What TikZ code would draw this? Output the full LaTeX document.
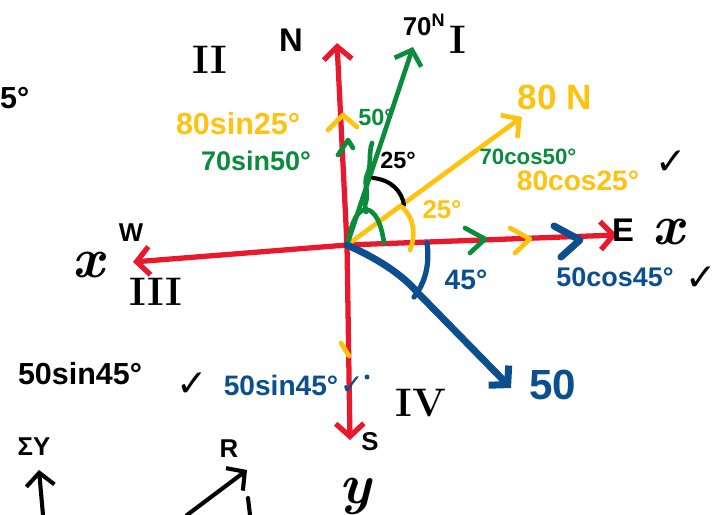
\documentclass[tikz,border=0pt]{standalone}
\usepackage{fontspec}
\setsansfont{Liberation Sans}
\newfontfamily\symfont{DejaVu Sans}
\usetikzlibrary{arrows.meta}
\definecolor{axisred}{HTML}{E8192C}
\definecolor{vecgreen}{HTML}{0A8C3C}
\definecolor{vecyellow}{HTML}{FFC20E}
\definecolor{vecblue}{HTML}{0B4F8E}
\tikzset{
  lbl/.style={font=\sffamily\bfseries\fontsize{#1}{#1}\selectfont, inner sep=0pt},
  lbl/.default=24,
  numeral/.style={font=\rmfamily\bfseries\fontsize{34}{34}\selectfont, inner sep=0pt},
  var/.style={font=\rmfamily\bfseries\itshape\fontsize{48}{48}\selectfont, inner sep=0pt},
  tick/.style={font=\symfont\bfseries\fontsize{32}{32}\selectfont, inner sep=0pt},
  stroke/.style={line width=4.5pt, line cap=round, line join=round},
  vec/.style={stroke, -{Straight Barb[length=11pt,width=24pt]}}
}

\begin{document}
\begin{tikzpicture}[x=0.03cm,y=-0.03cm]
  \useasboundingbox (0,0) rectangle (723,515);
  \coordinate (O) at (347,245);
  \coordinate (N) at (337,43);
  \coordinate (S) at (350,440);
  \coordinate (E) at (617,235);
  \coordinate (W) at (133,262);
  \coordinate (tipG) at (413,47);
  \coordinate (tipY) at (522,117);
  \coordinate (tipB) at (511,388);

  \draw[vec,axisred] (O) -- (N);
  \draw[vec,axisred] (O) -- (S);
  \draw[vec,axisred] (O) -- (E);
  \draw[vec,axisred] (O) -- (W);

  \draw[vec,vecgreen,line width=4pt] (O) -- (tipG);
  \draw[vec,vecyellow,line width=4pt] (O) -- (tipY);
  \draw[vec,vecblue,line width=6pt] (O) .. controls (385,262) and (405,278) .. (418,293) -- (tipB);

  \foreach \px/\c in {485/vecgreen,530/vecyellow}
    \draw[stroke,\c,line width=4pt] (\px-20,228) -- (\px,239) -- (\px-15,253);
  \draw[stroke,vecblue,line width=6pt] (554,226) -- (580,240) -- (561,257);
  \draw[stroke,vecyellow,line width=4pt] (328,130) -- (343,115) -- (357,127);
  \draw[stroke,vecgreen,line width=4pt] (338,155) -- (348,140) -- (353,148);
  \draw[stroke,vecyellow,line width=4pt] (341,343) -- (349,356);
  \fill[vecblue] (367,377) circle (2.5);

  \draw[stroke,line width=3.5pt] (373,178) .. controls (392,180) and (402,192) .. (404,205);
  \draw[stroke,vecyellow,line width=4pt] (402,207) .. controls (416,220) and (415,238) .. (410,250);
  \draw[stroke,vecblue,line width=4.5pt] (427,243) .. controls (430,265) and (425,283) .. (414,297);
  \draw[stroke,vecgreen,line width=4pt] (349,240) .. controls (354,200) and (378,198) .. (384,243);
  \draw[stroke,vecgreen,line width=4pt] (372,143) .. controls (368,155) and (372,165) .. (367,175)
    .. controls (363,185) and (370,192) .. (365,205) -- (366,212);

  \node[lbl=28] (lblN) at (291,40) {N};
  \node[lbl=22] (lblS) at (370,442) {S};
  \node[lbl=28] (lblE) at (623,230) {E};
  \node[lbl=22] (lblW) at (131,233) {W};
  \node[var] (xE) at (668,232) {x};
  \node[var] (xW) at (88,265) {x};
  \node[var] (yS) at (355,496) {y};

  \node[numeral] (q2) at (210,60) {II};
  \node[numeral] (q1) at (458,40) {I};
  \node[numeral] (q3) at (156,292) {III};
  \node[numeral] (q4) at (421,403) {IV};

  \node[lbl=22] (magG) at (424,25) {70\textsuperscript{N}};
  \node[lbl=30,text=vecyellow] (magY) at (555,97) {80 N};
  \node[lbl=36,text=vecblue] (magB) at (553,385) {50};

  \node[lbl=26,text=vecyellow] (ySin) at (238,124) {80sin25°};
  \node[lbl=23,text=vecgreen] (gSin) at (256,161) {70sin50°};
  \node[lbl=19,text=vecgreen] (gCos) at (528,157) {70cos50°};
  \node[lbl=24,text=vecyellow] (yCos) at (578,181) {80cos25°};
  \node[lbl=23,text=vecblue] (bCos) at (615,277) {50cos45°};
  \node[lbl=26] (bSinK) at (80,374) {50sin45°};
  \node[lbl=24,text=vecblue] (bSin) at (281,385) {50sin45°};

  \node[lbl=20,text=vecgreen] (angG) at (376,117) {50°};
  \node[lbl=20] (angK) at (398,160) {25°};
  \node[lbl=22,text=vecyellow] (angY) at (442,210) {25°};
  \node[lbl=24,text=vecblue] (angB) at (466,280) {45°};

  \node[tick] (ck1) at (671,163) {✓};
  \node[tick] (ck2) at (701,279) {✓};
  \node[tick] (ck3) at (192,385) {✓};
  \node[tick,text=vecblue,font=\symfont\bfseries\fontsize{24}{24}\selectfont] (ck4) at (352,386) {✓};

  \node[lbl=26,anchor=west] (frag) at (0,98) {5°};

  \node[lbl=22] (sumY) at (34,447) {ΣY};
  \node[lbl=22] (lblR) at (229,449) {R};
  \coordinate (sumTail) at (43,515);
  \coordinate (sumHead) at (39,470);
  \coordinate (rTail) at (187,515);
  \coordinate (rHead) at (247,470);
  \draw[vec,line width=3.5pt] (sumTail) -- (sumHead);
  \draw[vec,line width=3.5pt] (rTail) -- (rHead);
  \draw[stroke,line width=3.5pt] (248,498) -- (250,515);
\end{tikzpicture}
\end{document}
